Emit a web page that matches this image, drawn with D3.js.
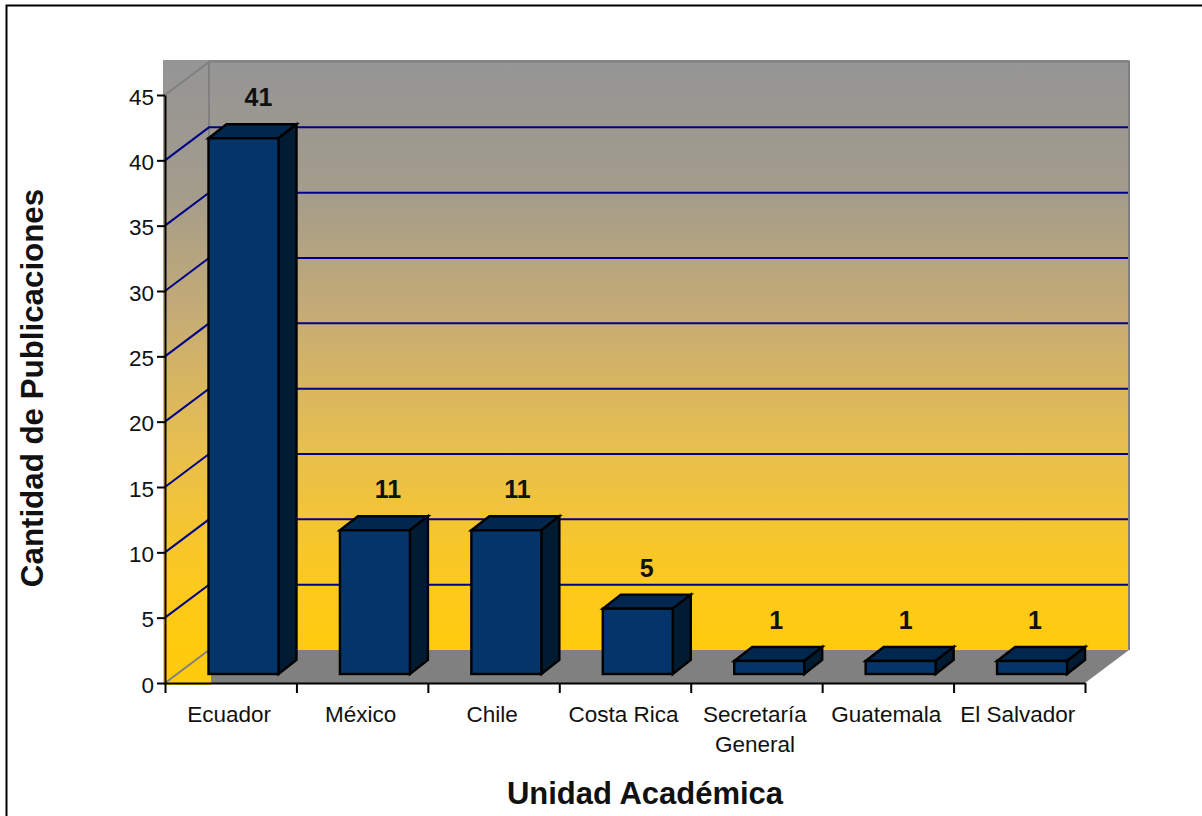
<!DOCTYPE html>
<html>
<head>
<meta charset="utf-8">
<script src="https://cdn.jsdelivr.net/npm/d3@7"></script>
<style>
  html, body { margin: 0; padding: 0; background: #fff; }
  svg { display: block; font-family: "Liberation Sans", Arial, sans-serif; }
  .axis .domain { stroke: #000; stroke-width: 2; }
  .axis line { stroke: #000; stroke-width: 2; }
  .axis text { font-family: "Liberation Sans", Arial, sans-serif; font-size: 22.5px; fill: #111; }
</style>
</head>
<body>
<script>
let categories = ["Ecuador", "México", "Chile", "Costa Rica", "Secretaría General", "Guatemala", "El Salvador"];
let values = [41, 11, 11, 5, 1, 1, 1];
let yTicks = [0, 5, 10, 15, 20, 25, 30, 35, 40, 45];
let xTitle = "Unidad Académica";
let yTitle = "Cantidad de Publicaciones";

let width = 1202, height = 816;
let left = 165, right = 1085, floorY = 683, topY = 95;
let depth = [44, -33];      // back wall offset
let barDepth = [18, -14];   // bar top/side offset
let barWidth = 70;

let svg = d3.select("body").append("svg")
  .attr("width", width)
  .attr("height", height);

let y = d3.scaleLinear().domain([0, 45]).range([floorY, topY]);
let x = d3.scaleBand().domain(categories).range([left, right]);
let xEdges = d3.scaleLinear().domain([0, categories.length]).range([left, right]);

let grad = svg.append("defs").append("linearGradient")
  .attr("id", "wall")
  .attr("gradientUnits", "userSpaceOnUse")
  .attr("x1", 0).attr("x2", 0)
  .attr("y1", 62).attr("y2", 650);
[["0", "#959595"], ["0.22", "#a39c8c"], ["0.42", "#c4ab76"], ["0.66", "#e8bf4e"], ["0.88", "#fcc91f"], ["1", "#ffcb0c"]]
  .forEach(s => grad.append("stop").attr("offset", s[0]).attr("stop-color", s[1]));

// outer frame, only top and left are visible
svg.append("path")
  .attr("d", "M6.5," + height + "V5.5H" + width)
  .attr("fill", "none").attr("stroke", "#000").attr("stroke-width", 2);

// walls
let backX = left + depth[0], backBottom = floorY + depth[1];
svg.append("rect")
  .attr("x", 163).attr("y", 60)
  .attr("width", left + depth[0] + 2 - 163).attr("height", floorY + 2 - 60)
  .attr("fill", "url(#wall)");
svg.append("rect")
  .attr("x", backX).attr("y", 60)
  .attr("width", right + depth[0] - backX).attr("height", backBottom - 60)
  .attr("fill", "url(#wall)");

// floor
svg.append("path")
  .attr("d", d3.line()([[backX + 2, backBottom], [right + depth[0], backBottom], [right, floorY], [backX + 2, floorY]]))
  .attr("fill", "#808080");

// wall edges
svg.append("path")
  .attr("d", "M" + backX + "," + backBottom + "V61.5H" + (right + depth[0]) + "V" + backBottom)
  .attr("fill", "none").attr("stroke", "#808080").attr("stroke-width", 2);

// gridlines, diagonal part on the left wall then along the back
svg.append("g").selectAll("path")
  .data(yTicks.filter(d => d > 0 && d < 45))
  .enter().append("path")
  .attr("d", d => d3.line()([[left, y(d)], [backX, y(d) + depth[1]], [right + depth[0] - 1, y(d) + depth[1]]]))
  .attr("fill", "none")
  .attr("stroke", "#000088")
  .attr("stroke-width", 2);

// the two grey diagonals at both ends of the scale
svg.append("g").selectAll("line")
  .data([0, 45])
  .enter().append("line")
  .attr("x1", left).attr("y1", d => y(d))
  .attr("x2", backX).attr("y2", d => y(d) + depth[1])
  .attr("stroke", "#808080").attr("stroke-width", 2);

// bars
let bars = svg.append("g").selectAll("g")
  .data(categories)
  .enter().append("g");

let barX = d => x(d) + depth[0] - 0.5;
let barBase = y(0) - 9;
let barTop = (d, i) => barBase - (y(0) - y(values[i]));

bars.append("path")
  .attr("d", (d, i) => d3.line()([
    [barX(d), barTop(d, i)],
    [barX(d) + barDepth[0], barTop(d, i) + barDepth[1]],
    [barX(d) + barWidth + barDepth[0], barTop(d, i) + barDepth[1]],
    [barX(d) + barWidth, barTop(d, i)]
  ]) + "Z")
  .attr("fill", "#02274f").attr("stroke", "#000").attr("stroke-width", 2.4);

bars.append("path")
  .attr("d", (d, i) => d3.line()([
    [barX(d) + barWidth, barTop(d, i)],
    [barX(d) + barWidth + barDepth[0], barTop(d, i) + barDepth[1]],
    [barX(d) + barWidth + barDepth[0], barBase + barDepth[1]],
    [barX(d) + barWidth, barBase]
  ]) + "Z")
  .attr("fill", "#011b33").attr("stroke", "#000").attr("stroke-width", 2.4);

bars.append("rect")
  .attr("x", barX)
  .attr("y", barTop)
  .attr("width", barWidth)
  .attr("height", (d, i) => barBase - barTop(d, i))
  .attr("fill", "#03356a").attr("stroke", "#000").attr("stroke-width", 2.4);

// value labels sit a little further left on each bar in the original
bars.append("text")
  .attr("x", (d, i) => barX(d) + 50 - 2 * i)
  .attr("y", (d, i) => barTop(d, i) - 32)
  .attr("text-anchor", "middle")
  .attr("font-size", 25)
  .attr("font-weight", "bold")
  .attr("fill", "#111")
  .text((d, i) => values[i]);

// axes
let yAxis = svg.append("g")
  .attr("class", "axis")
  .attr("transform", "translate(" + left + ",0)")
  .call(d3.axisLeft(y).tickValues(yTicks).tickSize(8).tickSizeOuter(0).tickPadding(3));
yAxis.selectAll("text").attr("dy", "0.4em");

svg.append("g")
  .attr("class", "axis")
  .attr("transform", "translate(0," + floorY + ")")
  .call(d3.axisBottom(xEdges).tickValues(d3.range(categories.length + 1)).tickSize(10).tickSizeOuter(0).tickFormat(""));

// category labels, long ones wrap on two lines
let xLabels = svg.append("g").selectAll("text")
  .data(categories)
  .enter().append("text")
  .attr("font-size", 22.5)
  .attr("fill", "#111")
  .attr("text-anchor", "middle")
  .attr("y", 722);

xLabels.selectAll("tspan")
  .data(d => d === "Secretaría General" ? d.split(" ") : [d])
  .enter().append("tspan")
  .attr("x", function () { let c = d3.select(this.parentNode).datum(); return x(c) + x.bandwidth() / 2 - 1.5; })
  .attr("dy", (d, i) => i ? 30 : 0)
  .text(d => d);

// titles
svg.append("text")
  .attr("x", 645).attr("y", 804)
  .attr("text-anchor", "middle")
  .attr("font-size", 31).attr("font-weight", "bold").attr("fill", "#111")
  .text(xTitle);

svg.append("text")
  .attr("transform", "translate(43,388) rotate(-90)")
  .attr("text-anchor", "middle")
  .attr("font-size", 31.3).attr("font-weight", "bold").attr("fill", "#111")
  .text(yTitle);
</script>
</body>
</html>
